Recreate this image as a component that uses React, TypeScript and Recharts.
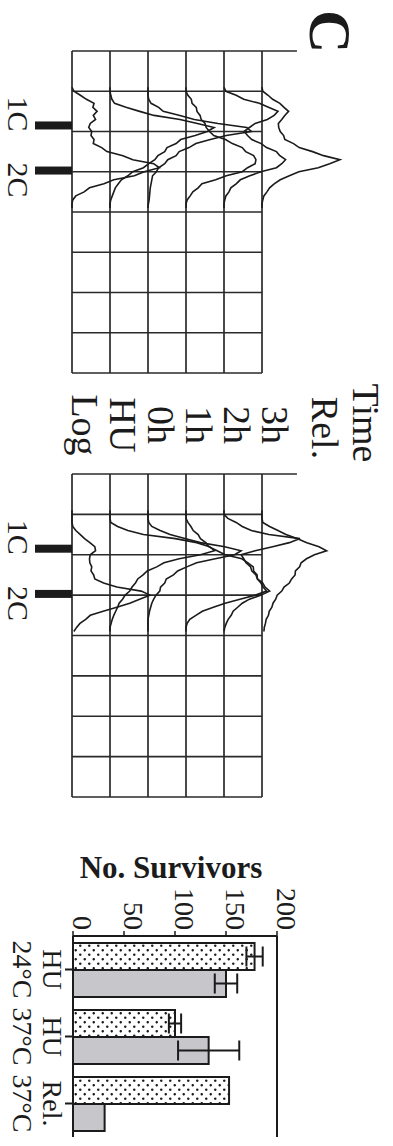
import {
  LineChart,
  Line,
  XAxis,
  YAxis,
  ReferenceLine,
  BarChart,
  Bar,
  ErrorBar,
} from "recharts";

// DNA content channel (in grid divisions) shared by every histogram trace
const channel = [
  0.9, 1.0, 1.1, 1.2, 1.3, 1.4, 1.5, 1.6, 1.7, 1.8, 1.9, 2.0, 2.1, 2.2, 2.3, 2.4,
  2.5, 2.6, 2.7, 2.8, 2.9, 3.0, 3.1, 3.2, 3.3, 3.4, 3.5, 3.6, 3.7, 3.8, 3.9,
];

// upper panel, cell counts (grid divisions above each trace's own baseline)
const logTop = [0, 0.05, 0.22, 0.38, 0.58, 0.55, 0.66, 0.56, 0.62, 0.48, 0.44, 0.52, 0.5, 0.58, 0.56, 0.78, 0.92, 1.34, 1.6, 2.15, 2.3, 1.9, 1.64, 1.1, 0.84, 0.46, 0.32, 0.1, 0.02, 0, 0];
const huTop = [0, 0, 0.02, 0.05, 0.12, 0.42, 0.78, 1.16, 1.84, 2.3, 2.74, 2.56, 2.24, 1.86, 1.74, 1.5, 1.44, 1.26, 1.18, 1.02, 0.88, 0.6, 0.47, 0.3, 0.22, 0.14, 0.1, 0.06, 0.02, 0, 0];
const h0Top = [0, 0, 0, 0.02, 0.08, 0.28, 0.4, 0.84, 1.22, 1.84, 2.6, 2.72, 2.06, 1.64, 1.26, 1.08, 0.82, 0.74, 0.52, 0.44, 0.28, 0.22, 0.12, 0.1, 0.08, 0.06, 0.05, 0.04, 0.03, 0.01, 0];
const h1Top = [0, 0, 0.05, 0.14, 0.16, 0.27, 0.29, 0.37, 0.4, 0.5, 0.53, 0.62, 0.73, 1.04, 1.22, 1.48, 1.57, 1.78, 1.84, 1.82, 1.62, 1.48, 1.06, 0.78, 0.42, 0.32, 0.18, 0.11, 0.03, 0, 0];
const h2Top = [0, 0.05, 0.32, 0.52, 0.93, 1.17, 1.42, 1.32, 1.14, 0.82, 0.67, 0.53, 0.62, 0.73, 0.98, 1.12, 1.38, 1.47, 1.62, 1.52, 1.38, 0.97, 0.68, 0.43, 0.32, 0.18, 0.13, 0.05, 0.02, 0, 0];
const h3Top = [0, 0.02, 0.16, 0.28, 0.47, 0.58, 0.7, 0.6, 0.52, 0.43, 0.44, 0.48, 0.57, 0.6, 0.83, 0.98, 1.33, 1.62, 2.05, 1.78, 1.48, 0.97, 0.72, 0.48, 0.32, 0.2, 0.13, 0.05, 0.02, 0, 0];

// lower panel
const logBot = [0, 0, 0, 0, 0.02, 0.1, 0.22, 0.33, 0.47, 0.6, 0.62, 0.48, 0.46, 0.47, 0.52, 0.5, 0.57, 0.6, 0.83, 1.18, 1.82, 2.05, 1.78, 1.52, 1.18, 0.82, 0.48, 0.36, 0.21, 0.12, 0.05];
const huBot = [0, 0, 0, 0.02, 0.2, 0.47, 0.88, 1.72, 2.28, 2.62, 2.75, 2.38, 1.82, 1.42, 1.23, 0.98, 0.87, 0.73, 0.67, 0.58, 0.52, 0.4, 0.33, 0.24, 0.2, 0.15, 0.1, 0.06, 0.03, 0, 0];
const h0Bot = [0, 0, 0, 0.02, 0.1, 0.32, 0.58, 0.97, 1.38, 2.02, 2.45, 2.28, 1.77, 1.28, 1.02, 0.78, 0.67, 0.48, 0.44, 0.33, 0.31, 0.21, 0.15, 0.1, 0.07, 0.04, 0.02, 0, 0, 0, 0];
const h1Bot = [0, 0, 0, 0.05, 0.13, 0.19, 0.32, 0.38, 0.52, 0.6, 0.82, 1.03, 1.47, 1.63, 1.77, 1.78, 1.87, 1.88, 1.97, 2.03, 2.12, 1.83, 1.42, 1.03, 0.72, 0.43, 0.26, 0.1, 0.03, 0, 0];
const h2Bot = [0, 0, 0.1, 0.32, 0.48, 0.72, 1.18, 2.0, 1.72, 1.28, 0.82, 0.45, 0.52, 0.58, 0.7, 0.73, 0.84, 0.88, 1.02, 1.08, 1.2, 0.98, 0.67, 0.48, 0.36, 0.24, 0.19, 0.11, 0.06, 0.02, 0];
const h3Bot = [0, 0, 0, 0.02, 0.2, 0.42, 0.63, 0.92, 1.18, 1.5, 1.7, 1.38, 1.17, 1.03, 0.99, 0.88, 0.87, 0.78, 0.72, 0.58, 0.52, 0.4, 0.36, 0.29, 0.26, 0.19, 0.17, 0.11, 0.09, 0.06, 0.05];

const traceLabels = ["Log", "HU", "0h", "1h", "2h", "3h"];
const traceOffsets = [0, 1, 2, 3, 4, 5];
const markerTicks = [1.85, 2.97];
const markerLabels = ["1C", "2C"];
const gridCols = [0, 1, 2, 3, 4, 5, 6, 7, 8];
const gridRows = [0, 1, 2, 3, 4, 5];

// survivors bar chart
const catTop = ["HU", "HU", "Rel."];
const catBottom = ["24°C", "37°C", "37°C"];
const dottedValues = [178, 100, 153];
const dottedErrors = [8, 6, 0];
const grayValues = [150, 133, 31];
const grayErrors = [11, 30, 0];
const survivorTicks = [0, 50, 100, 150, 200];

const FONT = "'Liberation Serif', 'Times New Roman', serif";
const INK = "#1b1b1b";

const buildRows = (traces: number[][]) =>
  channel.map((d, i) => {
    const row: Record<string, number> = { d };
    traces.forEach((t, k) => {
      row["t" + k] = t[i] + traceOffsets[k];
    });
    return row;
  });

const MarkerTick = (props: any) => {
  const { x, y, index } = props;
  const first = index === 0;
  return (
    <g>
      <rect x={x - 4} y={y} width={8} height={37} fill={INK} />
      <text
        x={first ? x + 6 : x - 8}
        y={y + 64}
        textAnchor={first ? "end" : "start"}
        fontFamily={FONT}
        fontSize={30}
        fill={INK}
      >
        {markerLabels[index]}
      </text>
    </g>
  );
};

const TraceLabelTick = (props: any) => {
  const { x, y, payload } = props;
  return (
    <text x={x + 52} y={y} textAnchor="middle" fontFamily={FONT} fontSize={38} fill={INK}>
      {traceLabels[payload.value]}
    </text>
  );
};

const Histogram = ({ traces, left, withLabels }: { traces: number[][]; left: number; withLabels: boolean }) => {
  const rows = buildRows(traces);
  return (
    <div style={{ position: "absolute", left, top: 0 }}>
      <LineChart
        width={withLabels ? 420 : 346}
        height={393}
        data={rows}
        margin={{ top: 17, right: 12, bottom: 12, left: 11 }}
      >
        <XAxis
          type="number"
          dataKey="d"
          domain={[0, 8]}
          ticks={markerTicks}
          interval={0}
          height={60}
          tickSize={0}
          tickMargin={0}
          axisLine={false}
          tickLine={false}
          tick={MarkerTick}
        />
        <YAxis
          type="number"
          domain={[0, 8]}
          orientation="right"
          ticks={gridRows}
          interval={0}
          width={75}
          hide={!withLabels}
          tickSize={0}
          tickMargin={0}
          axisLine={false}
          tickLine={false}
          tick={TraceLabelTick}
        />
        {gridCols.map((c) => (
          <ReferenceLine
            key={"c" + c}
            segment={[{ x: c, y: 0 }, { x: c, y: c === 0 ? 5.92 : 5 }]}
            stroke="#2a2a2a"
            strokeWidth={1.7}
          />
        ))}
        {gridRows.map((r) => (
          <ReferenceLine
            key={"r" + r}
            segment={[{ x: 0, y: r }, { x: 8, y: r }]}
            stroke="#2a2a2a"
            strokeWidth={1.7}
          />
        ))}
        {traces.map((_, k) => (
          <Line
            key={k}
            dataKey={"t" + k}
            type="linear"
            stroke={INK}
            strokeWidth={1.6}
            dot={false}
            isAnimationActive={false}
          />
        ))}
      </LineChart>
    </div>
  );
};

const CategoryTick = (props: any) => {
  const { x, y, index } = props;
  return (
    <g fontFamily={FONT} fontSize={28} fill={INK}>
      <text x={x} y={y + 22} textAnchor="middle">{catTop[index]}</text>
      <text x={x} y={y + 52} textAnchor="middle">{catBottom[index]}</text>
    </g>
  );
};

const SurvivorTick = (props: any) => {
  const { x, y, payload } = props;
  return (
    <text x={x} y={y} textAnchor="end" fontFamily={FONT} fontSize={28} fill={INK}>
      {payload.value}
    </text>
  );
};

const TitleLabel = (props: any) => {
  const { viewBox } = props;
  const tx = viewBox.x + 38;
  const ty = viewBox.y + viewBox.height / 2 + 4;
  return (
    <text
      x={tx}
      y={ty}
      transform={`rotate(-90 ${tx} ${ty})`}
      textAnchor="middle"
      fontFamily={FONT}
      fontWeight="bold"
      fontSize={31}
      fill={INK}
    >
      No. Survivors
    </text>
  );
};

const SurvivorChart = () => {
  const barRows = catTop.map((t, i) => ({
    label: `${t} ${catBottom[i]}`,
    dotted: dottedValues[i],
    dottedErr: dottedErrors[i],
    gray: grayValues[i],
    grayErr: grayErrors[i],
  }));
  return (
    <div style={{ position: "absolute", left: 840, top: 0 }}>
      <BarChart
        width={306}
        height={393}
        data={barRows}
        margin={{ top: 116, right: 9, bottom: 3, left: 0 }}
        barGap={0}
        barSize={27}
      >
        <defs>
          <pattern id="dots" width={9} height={9} patternUnits="userSpaceOnUse">
            <rect width={9} height={9} fill="#fff" />
            <circle cx={2.2} cy={2.2} r={1.2} fill={INK} />
            <circle cx={6.7} cy={6.7} r={1.2} fill={INK} />
          </pattern>
        </defs>
        <XAxis
          dataKey="label"
          height={70}
          interval={0}
          tickSize={8}
          tickMargin={0}
          axisLine={{ stroke: INK, strokeWidth: 2 }}
          tickLine={{ stroke: INK, strokeWidth: 2 }}
          tick={CategoryTick}
        />
        <YAxis
          domain={[0, 200]}
          ticks={survivorTicks}
          interval={0}
          width={96}
          tickSize={5}
          tickMargin={1}
          axisLine={{ stroke: INK, strokeWidth: 2 }}
          tickLine={{ stroke: INK, strokeWidth: 1.5 }}
          tick={SurvivorTick}
          label={TitleLabel}
        />
        <YAxis
          yAxisId="frame"
          orientation="right"
          domain={[0, 1]}
          width={0}
          tick={false}
          tickLine={false}
          axisLine={{ stroke: INK, strokeWidth: 2 }}
        />
        <ReferenceLine y={200} stroke={INK} strokeWidth={2} />
        <Bar dataKey="dotted" fill="url(#dots)" stroke={INK} strokeWidth={2} isAnimationActive={false}>
          <ErrorBar dataKey="dottedErr" width={10} stroke={INK} strokeWidth={2} direction="y" />
        </Bar>
        <Bar dataKey="gray" fill="#c6c6cb" stroke={INK} strokeWidth={2} isAnimationActive={false}>
          <ErrorBar dataKey="grayErr" width={10} stroke={INK} strokeWidth={2} direction="y" />
        </Bar>
      </BarChart>
    </div>
  );
};

export default function App() {
  return (
    <div
      style={{
        position: "absolute",
        left: 0,
        top: 0,
        width: 393,
        height: 1146,
        overflow: "hidden",
        background: "#fff",
      }}
    >
      {/* the figure is laid out upright, then turned a quarter clockwise */}
      <div
        style={{
          position: "absolute",
          left: 0,
          top: 0,
          width: 1146,
          height: 393,
          transformOrigin: "0 0",
          transform: "translate(393px, 0) rotate(90deg)",
        }}
      >
        <Histogram traces={[logTop, huTop, h0Top, h1Top, h2Top, h3Top]} left={40} withLabels />
        <Histogram traces={[logBot, huBot, h0Bot, h1Bot, h2Bot, h3Bot]} left={463} withLabels={false} />
        <SurvivorChart />
        <svg
          width={1146}
          height={393}
          style={{ position: "absolute", left: 0, top: 0, pointerEvents: "none" }}
        >
          <g fontFamily={FONT} fill={INK}>
            <text x={10} y={83} fontSize={60} fontWeight="bold">C</text>
            <text x={423} y={40} fontSize={38} textAnchor="middle">Time</text>
            <text x={428} y={81} fontSize={38} textAnchor="middle">Rel.</text>
          </g>
        </svg>
      </div>
    </div>
  );
}
